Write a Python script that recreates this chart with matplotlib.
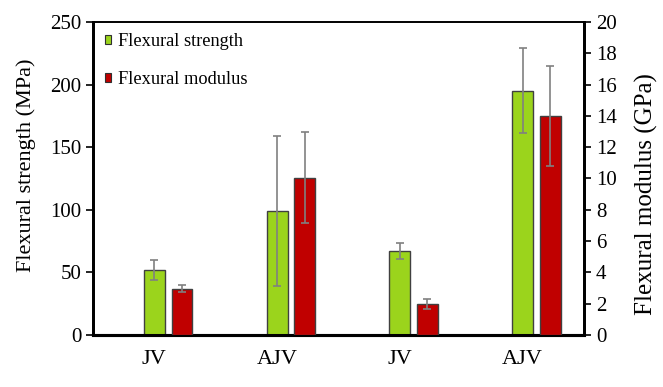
import numpy as np
import matplotlib
matplotlib.use('agg')
import matplotlib.pyplot as plt
from matplotlib.patches import Patch

plt.rcParams['font.family'] = 'Liberation Serif'

categories = ['JV', 'AJV', 'JV', 'AJV']
strength = [52, 99, 67, 195]          # MPa
strength_err = [8, 60, 6.5, 34]
modulus = [2.96, 10.05, 2.0, 14.0]    # GPa
modulus_err = [0.22, 2.9, 0.32, 3.2]

green = '#9bd41c'
red = '#c00000'
err_col = '#808080'

x = np.arange(len(categories))
w = 0.17
offset = 0.225

fig = plt.figure(figsize=(6.63, 3.87), dpi=100)
ax = fig.add_axes([0.1403, 0.1344, 0.7405, 0.8088])
ax2 = ax.twinx()

ax.bar(x, strength, w, color=green, edgecolor='#404040', linewidth=1.0,
       yerr=strength_err, ecolor=err_col, capsize=3,
       error_kw=dict(elinewidth=1.2, capthick=1.2), zorder=3)
ax2.bar(x + offset, modulus, w, color=red, edgecolor='#404040', linewidth=1.0,
        yerr=modulus_err, ecolor=err_col, capsize=3,
        error_kw=dict(elinewidth=1.2, capthick=1.2), zorder=3)

ax.set_xlim(-0.5, 3.5)
ax.set_ylim(0, 250)
ax.set_yticks(np.arange(0, 251, 50))
ax2.set_ylim(0, 20)
ax2.set_yticks(np.arange(0, 21, 2))

ax.set_xticks(x)
ax.set_xticklabels(categories, fontsize=16)
ax.tick_params(axis='x', length=0, pad=11)
ax.tick_params(axis='y', labelsize=15, direction='out', length=5, width=1.2)
ax2.tick_params(axis='y', labelsize=15, direction='out', length=5, width=1.2)

ax.set_ylabel('Flexural strength (MPa)', fontsize=16)
ax2.set_ylabel('Flexural modulus (GPa)', fontsize=18)
ax.yaxis.set_label_coords(-0.116, 0.543)
ax2.yaxis.set_label_coords(1.104, 0.45)

for a in (ax, ax2):
    a.spines['left'].set_linewidth(2)
    a.spines['bottom'].set_linewidth(2.2)
    a.spines['right'].set_linewidth(2)
    a.spines['top'].set_linewidth(1.2)

handles = [Patch(facecolor=green, edgecolor='#303030', linewidth=0.8),
           Patch(facecolor=red, edgecolor='#303030', linewidth=0.8)]
ax.legend(handles, ['Flexural strength', 'Flexural modulus'],
          loc='upper left', bbox_to_anchor=(0.01, 0.988), frameon=False,
          fontsize=13.2, handlelength=0.33, handleheight=0.33,
          handletextpad=0.38, labelspacing=1.15, borderaxespad=0)

fig.savefig('out.png', dpi=100)
